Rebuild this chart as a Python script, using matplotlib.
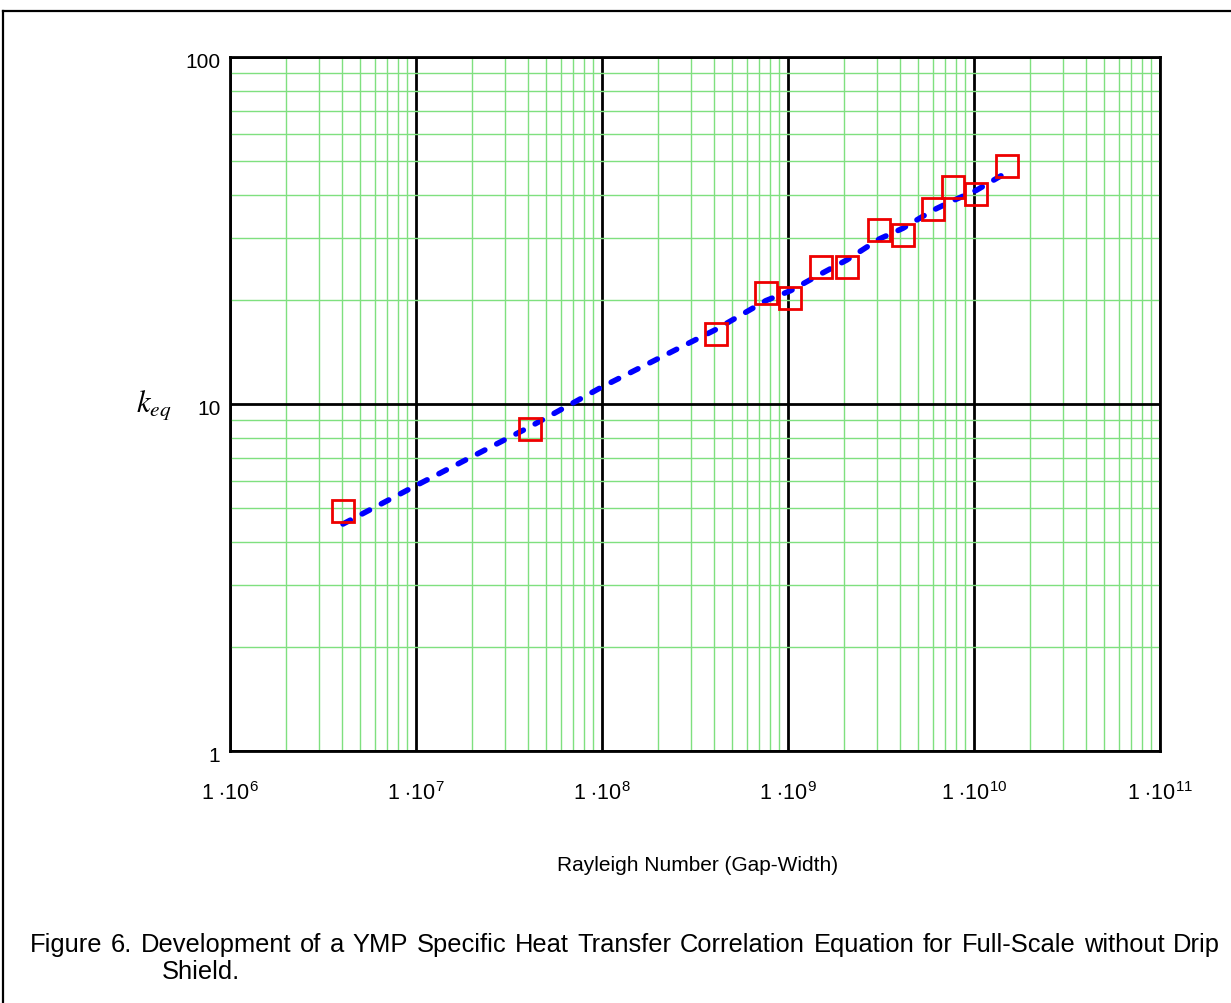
import numpy as np
import matplotlib
matplotlib.use("Agg")
import matplotlib.pyplot as plt
import matplotlib.transforms as mtransforms
from matplotlib.ticker import LogLocator, NullFormatter, FixedLocator
from matplotlib.lines import Line2D

plt.rcParams['mathtext.fontset'] = 'custom'
plt.rcParams['mathtext.rm'] = 'Liberation Sans'
plt.rcParams['mathtext.it'] = 'Liberation Sans:italic'
plt.rcParams['mathtext.bf'] = 'Liberation Sans:bold'
plt.rcParams['font.family'] = ['Liberation Sans', 'DejaVu Sans']

# Measured data: Rayleigh number vs equivalent conductivity
ra_data = [4.05e6, 4.1e7, 4.1e8, 7.6e8, 1.03e9, 1.5e9, 2.07e9,
           3.1e9, 4.15e9, 6.04e9, 7.67e9, 1.03e10, 1.51e10]
keq_data = [4.92, 8.47, 15.9, 20.85, 20.25, 24.8, 24.8,
            31.7, 30.7, 36.5, 42.1, 40.3, 48.6]

# Correlation curve
ra_fit = [4.05e6, 1.0e7, 4.1e7, 1.0e8, 4.1e8, 7.6e8, 1.03e9, 1.5e9, 2.07e9,
          3.1e9, 4.15e9, 6.04e9, 7.67e9, 1.03e10, 1.47e10]
keq_fit = [4.51, 5.82, 8.6, 11.2, 16.4, 19.85, 21.2, 23.7, 26.0,
           29.9, 32.1, 36.2, 38.5, 41.3, 46.2]

x_decades = [1e6, 1e7, 1e8, 1e9, 1e10, 1e11]
x_exponents = [6, 7, 8, 9, 10, 11]
y_decades = [1, 10, 100]
y_labels = ['1', '10', '100']

caption_line1 = ('Figure 6. Development of a YMP Specific Heat Transfer Correlation '
                 'Equation for Full-Scale without Drip')
caption_line2 = 'Shield.'

W, H = 1231, 1004
fig = plt.figure(figsize=(W / 100, H / 100), dpi=100)
ax = fig.add_axes([230 / W, 1 - 752 / H, (1160 - 230) / W, (752 - 58) / H])
ax.set_xscale('log')
ax.set_yscale('log')
ax.set_xlim(x_decades[0], x_decades[-1])
ax.set_ylim(y_decades[0], y_decades[-1])

green = '#7fe07f'
ax.xaxis.set_minor_locator(LogLocator(base=10, subs=np.arange(2, 10)))
ax.yaxis.set_minor_locator(LogLocator(base=10, subs=np.arange(2, 10)))
ax.xaxis.set_major_locator(FixedLocator(x_decades))
ax.yaxis.set_major_locator(FixedLocator(y_decades))
ax.grid(which='minor', color=green, lw=1.0)
ax.grid(which='major', color='black', lw=2.0)
ax.set_axisbelow(True)
ax.tick_params(which='both', length=0)
ax.xaxis.set_minor_formatter(NullFormatter())
ax.yaxis.set_minor_formatter(NullFormatter())
ax.set_xticklabels([r'$1\ {\cdot}10^{%d}$' % e for e in x_exponents], fontsize=15.5)
ax.set_yticklabels(y_labels, fontsize=15)
ax.tick_params(axis='x', pad=22)
ax.tick_params(axis='y', pad=7)
shift_down = mtransforms.ScaledTranslation(0, -3 / 100, fig.dpi_scale_trans)
for lbl in ax.get_yticklabels():
    lbl.set_transform(lbl.get_transform() + shift_down)
for s in ax.spines.values():
    s.set_linewidth(2.0)
    s.set_color('black')

ax.plot(ra_fit, keq_fit, color='#0000ff', lw=4.0, linestyle=(0, (1.5, 2.4)),
        dash_capstyle='round', solid_capstyle='round', zorder=3)
ax.plot(ra_data, keq_data, linestyle='none', marker='s', ms=16.5,
        mfc='none', mec='#ee0000', mew=2.0, zorder=4)

fig.text(154 / W, 1 - 406 / H, r'$k_{eq}$', fontsize=22, ha='center', va='center',
         math_fontfamily='stix')
fig.text(698 / W, 1 - 866 / H, 'Rayleigh Number (Gap-Width)', fontsize=15,
         ha='center', va='center')

# Justified first caption line spanning the page width
renderer = fig.canvas.get_renderer()
words = caption_line1.split(' ')
x_left, x_right = 30, 1220
cap_fs = 18.4
widths = []
for w in words:
    t = fig.text(0, 0, w, fontsize=cap_fs)
    widths.append(t.get_window_extent(renderer).width)
    t.remove()
gap = (x_right - x_left - sum(widths)) / (len(words) - 1)
x = x_left
for w, wd in zip(words, widths):
    fig.text(x / W, 1 - 945 / H, w, fontsize=cap_fs, ha='left', va='center')
    x += wd + gap
fig.text(162 / W, 1 - 972 / H, caption_line2, fontsize=cap_fs, ha='left', va='center')

# Page frame (top and left edges)
fig.add_artist(Line2D([3 / W, 1.0], [1 - 12 / H, 1 - 12 / H], color='black', lw=1.6))
fig.add_artist(Line2D([3 / W, 3 / W], [0.0, 1 - 12 / H], color='black', lw=1.6))

fig.savefig('out.png', dpi=100)
